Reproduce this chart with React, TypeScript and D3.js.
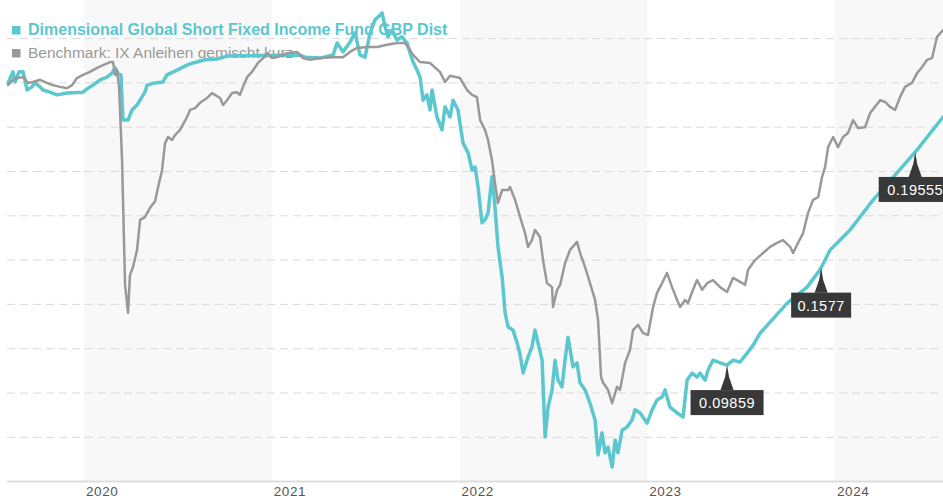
import React from "react";
import * as d3 from "d3";

// decimal year, performance (%)
const fundSeries: [number, number][] = [
  [2019.596, 0.0], [2019.622, 0.25], [2019.633, 0.02], [2019.654, 0.25], [2019.676, 0.25],
  [2019.697, -0.16], [2019.723, -0.09], [2019.739, 0.0], [2019.766, -0.09], [2019.782, -0.16],
  [2019.819, -0.21], [2019.857, -0.27], [2019.91, -0.23], [2019.995, -0.21], [2020.022, -0.12],
  [2020.048, -0.05], [2020.086, 0.07], [2020.123, 0.13], [2020.15, 0.22], [2020.166, 0.34],
  [2020.182, 0.2], [2020.197, 0.18], [2020.208, -0.84], [2020.235, -0.84], [2020.256, -0.61],
  [2020.283, -0.5], [2020.299, -0.39], [2020.325, -0.21], [2020.336, -0.05], [2020.379, 0.0],
  [2020.421, 0.02], [2020.442, 0.18], [2020.496, 0.29], [2020.549, 0.4], [2020.581, 0.45],
  [2020.645, 0.52], [2020.709, 0.54], [2020.767, 0.61], [2021.151, 0.63], [2021.177, 0.58],
  [2021.257, 0.56], [2021.327, 0.63], [2021.348, 0.9], [2021.38, 0.7], [2021.417, 0.92],
  [2021.444, 1.13], [2021.47, 0.63], [2021.497, 0.58], [2021.524, 1.13], [2021.55, 1.42],
  [2021.588, 1.58], [2021.604, 1.26], [2021.619, 1.04], [2021.641, 1.19], [2021.667, 0.97],
  [2021.694, 1.04], [2021.721, 0.9], [2021.737, 0.67], [2021.753, 0.47], [2021.774, 0.29],
  [2021.79, 0.13], [2021.806, -0.39], [2021.827, -0.27], [2021.843, -0.61], [2021.854, -0.16],
  [2021.88, -0.77], [2021.907, -1.06], [2021.923, -0.54], [2021.95, -0.77], [2021.966, -0.39],
  [2021.992, -0.61], [2022.019, -1.36], [2022.046, -1.58], [2022.067, -1.97], [2022.083, -1.9],
  [2022.099, -2.35], [2022.12, -3.16], [2022.136, -3.09], [2022.152, -2.94], [2022.173, -2.12],
  [2022.189, -2.8], [2022.205, -3.7], [2022.227, -4.38], [2022.243, -5.19], [2022.259, -5.51],
  [2022.285, -5.58], [2022.307, -5.87], [2022.323, -6.14], [2022.339, -6.55], [2022.365, -6.19],
  [2022.386, -5.96], [2022.402, -5.58], [2022.418, -5.87], [2022.44, -6.26], [2022.456, -7.99],
  [2022.472, -7.32], [2022.493, -6.93], [2022.509, -6.26], [2022.525, -6.71], [2022.546, -6.86],
  [2022.562, -6.26], [2022.578, -5.74], [2022.605, -6.41], [2022.626, -6.32], [2022.642, -6.77],
  [2022.669, -6.93], [2022.695, -7.23], [2022.722, -7.61], [2022.738, -8.4], [2022.759, -7.9],
  [2022.775, -8.35], [2022.791, -8.22], [2022.813, -8.67], [2022.829, -8.06], [2022.844, -8.35],
  [2022.866, -7.84], [2022.892, -7.77], [2022.919, -7.61], [2022.935, -7.38], [2022.962, -7.45],
  [2022.999, -7.68], [2023.026, -7.38], [2023.052, -7.16], [2023.079, -7.09], [2023.095, -6.93],
  [2023.121, -7.32], [2023.159, -7.45], [2023.191, -7.54], [2023.212, -6.71], [2023.239, -6.55],
  [2023.265, -6.64], [2023.281, -6.55], [2023.308, -6.71], [2023.324, -6.48], [2023.35, -6.26],
  [2023.388, -6.32], [2023.425, -6.37], [2023.457, -6.26], [2023.494, -6.3], [2023.532, -6.1],
  [2023.564, -5.92], [2023.601, -5.65], [2023.665, -5.35], [2023.745, -4.97], [2023.851, -4.61],
  [2023.92, -4.22], [2023.974, -3.77], [2024.08, -3.32], [2024.203, -2.64], [2024.33, -2.03],
  [2024.437, -1.51], [2024.575, -0.77],
];

const benchSeries: [number, number][] = [
  [2019.596, -0.05], [2019.622, 0.07], [2019.649, 0.11], [2019.676, 0.13], [2019.702, 0.0],
  [2019.729, 0.02], [2019.766, 0.07], [2019.803, 0.0], [2019.835, -0.05], [2019.873, -0.09],
  [2019.91, -0.12], [2019.937, -0.05], [2019.963, 0.11], [2019.995, 0.18], [2020.032, 0.25],
  [2020.07, 0.34], [2020.102, 0.4], [2020.139, 0.47], [2020.155, 0.47], [2020.166, 0.18],
  [2020.176, 0.29], [2020.187, -0.09], [2020.203, -1.74], [2020.219, -4.56], [2020.235, -5.19],
  [2020.245, -4.34], [2020.261, -4.16], [2020.283, -3.77], [2020.299, -3.09], [2020.325, -3.03],
  [2020.352, -2.82], [2020.379, -2.67], [2020.395, -2.35], [2020.416, -1.97], [2020.432, -1.36],
  [2020.448, -1.22], [2020.469, -1.29], [2020.485, -1.18], [2020.512, -1.06], [2020.549, -0.77],
  [2020.565, -0.61], [2020.592, -0.57], [2020.618, -0.45], [2020.656, -0.34], [2020.682, -0.23],
  [2020.698, -0.27], [2020.725, -0.34], [2020.741, -0.5], [2020.762, -0.39], [2020.789, -0.23],
  [2020.815, -0.21], [2020.831, -0.27], [2020.847, -0.09], [2020.869, 0.13], [2020.895, 0.25],
  [2020.927, 0.45], [2020.954, 0.56], [2020.975, 0.67], [2021.002, 0.56], [2021.028, 0.58],
  [2021.082, 0.67], [2021.135, 0.7], [2021.167, 0.56], [2021.204, 0.52], [2021.257, 0.56],
  [2021.327, 0.58], [2021.38, 0.58], [2021.417, 0.7], [2021.454, 0.79], [2021.508, 0.81],
  [2021.561, 0.81], [2021.614, 0.86], [2021.667, 0.9], [2021.71, 0.9], [2021.726, 0.81],
  [2021.753, 0.63], [2021.79, 0.47], [2021.843, 0.45], [2021.896, 0.25], [2021.923, 0.02],
  [2021.95, 0.16], [2022.003, 0.11], [2022.04, -0.16], [2022.067, -0.27], [2022.093, -0.32],
  [2022.11, -0.84], [2022.136, -1.06], [2022.152, -1.29], [2022.173, -1.74], [2022.189, -2.26],
  [2022.205, -2.71], [2022.227, -2.42], [2022.259, -2.42], [2022.269, -2.35], [2022.296, -2.64],
  [2022.323, -3.03], [2022.349, -3.39], [2022.365, -3.7], [2022.386, -3.55], [2022.402, -3.32],
  [2022.429, -3.48], [2022.445, -4.0], [2022.466, -4.52], [2022.493, -4.61], [2022.498, -5.06],
  [2022.52, -4.67], [2022.536, -4.56], [2022.562, -4.07], [2022.589, -3.77], [2022.626, -3.59],
  [2022.642, -3.84], [2022.669, -4.16], [2022.695, -4.52], [2022.722, -4.9], [2022.738, -5.35],
  [2022.754, -6.64], [2022.765, -6.77], [2022.791, -6.93], [2022.813, -7.23], [2022.839, -6.86],
  [2022.855, -6.93], [2022.882, -6.32], [2022.908, -6.03], [2022.924, -5.58], [2022.951, -5.46],
  [2022.978, -5.65], [2023.004, -5.69], [2023.031, -5.06], [2023.052, -4.74], [2023.079, -4.52],
  [2023.105, -4.29], [2023.132, -4.61], [2023.159, -4.9], [2023.175, -5.06], [2023.201, -4.9],
  [2023.217, -4.97], [2023.239, -4.72], [2023.265, -4.45], [2023.292, -4.67], [2023.319, -4.52],
  [2023.35, -4.45], [2023.388, -4.61], [2023.425, -4.72], [2023.457, -4.4], [2023.494, -4.49],
  [2023.521, -4.56], [2023.537, -4.22], [2023.574, -4.0], [2023.617, -3.84], [2023.654, -3.7],
  [2023.691, -3.61], [2023.723, -3.55], [2023.761, -3.7], [2023.777, -3.84], [2023.803, -3.61],
  [2023.83, -3.39], [2023.856, -2.94], [2023.883, -2.64], [2023.91, -2.58], [2023.931, -2.12],
  [2023.947, -1.9], [2023.963, -1.45], [2023.99, -1.22], [2024.016, -1.45], [2024.043, -1.22],
  [2024.069, -1.13], [2024.096, -0.84], [2024.123, -1.02], [2024.16, -1.0], [2024.187, -0.68],
  [2024.213, -0.54], [2024.24, -0.39], [2024.267, -0.43], [2024.293, -0.54], [2024.32, -0.61],
  [2024.346, -0.32], [2024.373, -0.09], [2024.41, 0.0], [2024.437, 0.22], [2024.464, 0.36],
  [2024.49, 0.52], [2024.517, 0.56], [2024.543, 1.04], [2024.575, 1.19],
];

const yearTicks = [2020, 2021, 2022, 2023, 2024];
const shadedYears = [2020, 2022, 2024];
const gridValues = [-8, -7, -6, -5, -4, -3, -2, -1, 0, 1];
const distYears = [2023.425, 2023.926, 2024.427];
const distLabels = ["0.09859", "0.1577", "0.19555"];
const fundName = "Dimensional Global Short Fixed Income Fund GBP Dist";
const benchName = "Benchmark: IX Anleihen gemischt kurz";

const W = 943;
const H = 500;
const TEAL = "#5bc7cf";
const GRAY = "#999999";
const FONT = "'Liberation Sans', Arial, sans-serif";

export default function App() {
  const x = d3.scaleLinear().domain([2019.553, 2024.575]).range([0, W]);
  const y = d3.scaleLinear().domain([-9, 1]).range([481.6, 38.6]);
  const axisY = y(-9);

  const line = d3
    .line<[number, number]>()
    .x((d) => x(d[0]))
    .y((d) => y(d[1]))
    .curve(d3.curveLinear);

  const interp = (yr: number) => {
    const i = d3.bisector((d: [number, number]) => d[0]).left(fundSeries, yr);
    const a = fundSeries[Math.max(0, i - 1)];
    const b = fundSeries[Math.min(fundSeries.length - 1, i)];
    if (a[0] === b[0]) return a[1];
    const t = (yr - a[0]) / (b[0] - a[0]);
    return a[1] + t * (b[1] - a[1]);
  };

  return (
    <svg
      width={W}
      height={H}
      style={{ position: "absolute", left: 0, top: 0, background: "#fff" }}
      fontFamily={FONT}
    >
      {shadedYears.map((yr) => (
        <rect
          key={yr}
          x={x(yr)}
          y={0}
          width={Math.min(x(yr + 1), W) - x(yr)}
          height={axisY}
          fill="#f8f8f8"
        />
      ))}
      {gridValues.map((v) => (
        <line
          key={v}
          x1={7}
          x2={W}
          y1={y(v)}
          y2={y(v)}
          stroke="#d9d9d9"
          strokeWidth={1}
          strokeDasharray="8,5"
        />
      ))}
      <line x1={7} x2={W} y1={axisY} y2={axisY} stroke="#dedede" strokeWidth={2} />
      {yearTicks.map((yr) => (
        <text key={yr} x={x(yr) + 2} y={496} fontSize={13.5} fill="#555" letterSpacing={0.6}>
          {yr}
        </text>
      ))}

      <rect x={12} y={26} width={8.5} height={8.5} fill={TEAL} />
      <text x={28} y={35} fontSize={16} fontWeight="bold" fill={TEAL}>
        {fundName}
      </text>
      <rect x={12} y={49} width={8.5} height={8.5} fill={GRAY} />
      <text x={28} y={58} fontSize={15.5} fill={GRAY}>
        {benchName}
      </text>

      <path
        d={line(fundSeries) || ""}
        fill="none"
        stroke={TEAL}
        strokeWidth={3.5}
        strokeLinejoin="round"
        strokeLinecap="round"
      />
      <path
        d={line(benchSeries) || ""}
        fill="none"
        stroke={GRAY}
        strokeWidth={2.5}
        strokeLinejoin="round"
        strokeLinecap="round"
      />

      {distYears.map((yr, i) => {
        const tx = x(yr);
        const ty = y(interp(yr));
        const by = ty + 25;
        const bw = distLabels[i].length > 6 ? 73 : 60;
        return (
          <g key={yr}>
            <path
              d={`M${tx},${ty} L${tx + 2},${ty + 12} L${tx + 6.5},${by} L${tx - 6.5},${by} L${tx - 2},${ty + 12} Z`}
              fill="#383838"
            />
            <rect x={tx - bw / 2} y={by} width={bw} height={25} fill="#383838" />
            <text
              x={tx}
              y={by + 18}
              fontSize={14.5}
              fill="#fff"
              textAnchor="middle"
              letterSpacing={0.5}
            >
              {distLabels[i]}
            </text>
          </g>
        );
      })}
    </svg>
  );
}
